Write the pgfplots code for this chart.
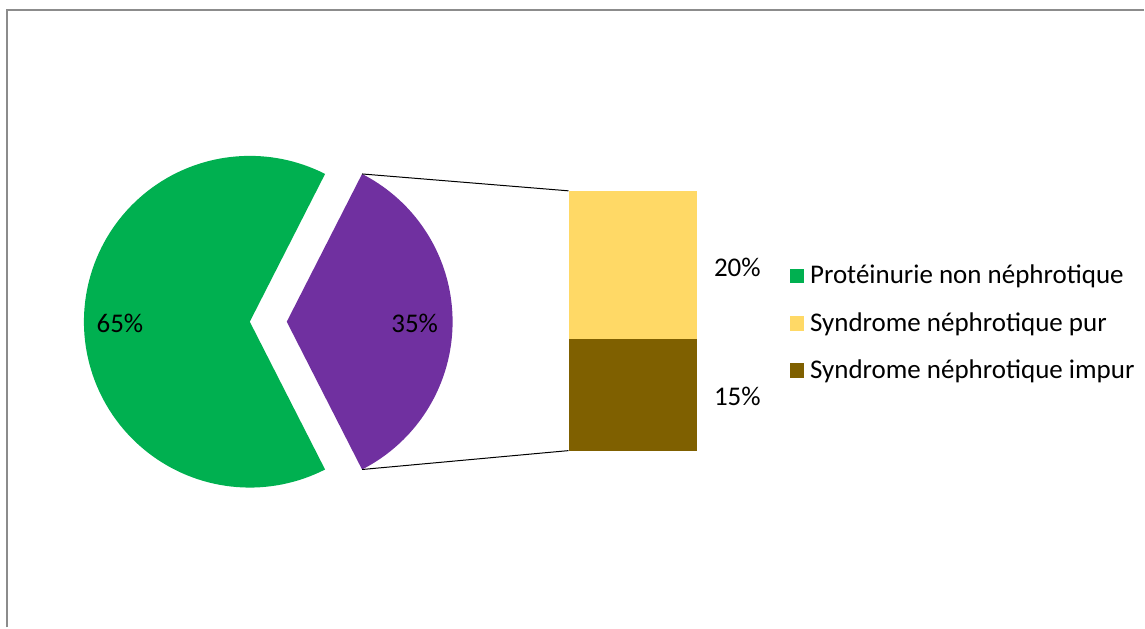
\documentclass[border=0pt]{standalone}
\usepackage{pgfplots}
\pgfplotsset{compat=1.18}
\usepackage{fontspec}
\setmainfont{Carlito}
\definecolor{pgreen}{HTML}{00B050}
\definecolor{ppurple}{HTML}{7030A0}
\definecolor{pyellow}{HTML}{FFD966}
\definecolor{pbrown}{HTML}{7F6000}
\begin{document}
\begin{tikzpicture}[font=\fontsize{13.5}{16}\selectfont]
\path (0,0) rectangle (572.5pt,314pt);
% values (percent)
\pgfmathsetmacro{\vA}{65}% Proteinurie non nephrotique
\pgfmathsetmacro{\vB}{35}% syndrome nephrotique (pie slice)
\pgfmathsetmacro{\half}{\vB*3.6/2}
\begin{axis}[
  at={(0,0)}, anchor=origin,
  scale only axis, width=572.5pt, height=314pt,
  xmin=0, xmax=1145, ymin=0, ymax=628,
  hide axis, clip=false,
  legend style={draw=none, fill=none, at={(axis cs:790,367)}, anchor=north west,
    row sep=8.7pt, font=\fontsize{13.5}{16}\selectfont,
    inner sep=0pt, nodes={inner xsep=3pt, inner ysep=2pt}},
  legend cell align=left,
  legend image code/.code={\fill[#1] (0pt,-3.4pt) rectangle (6.8pt,3.4pt);},
]
% frame
\addplot[draw=gray!90, line width=1pt, forget plot] coordinates {(7.5,0) (7.5,617.5) (1145,617.5)};
% green slice
\addplot[fill=pgreen, draw=none, domain=\half:360-\half, samples=120, forget plot]
  ({250+166*cos(x)},{306+166*sin(x)}) -- (axis cs:250,306) -- cycle;
% purple exploded slice
\addplot[fill=ppurple, draw=none, domain=-\half:\half, samples=80, forget plot]
  ({287+166*cos(x)},{306+166*sin(x)}) -- (axis cs:287,306) -- cycle;
% connectors
\addplot[black, line width=0.5pt, forget plot] coordinates {(362.4,453.9) (569,437)};
\addplot[black, line width=0.5pt, forget plot] coordinates {(362.4,158.1) (569,177)};
% labels
\node at (axis cs:120,304) {65\%};
\node at (axis cs:415,304) {35\%};
\node at (axis cs:738,360) {20\%};
\node at (axis cs:738,231) {15\%};
\addlegendimage{pgreen}
\addlegendentry{Protéinurie non néphrotique}
\addlegendimage{pyellow}
\addlegendentry{Syndrome néphrotique pur}
\addlegendimage{pbrown}
\addlegendentry{Syndrome néphrotique impur}
\end{axis}
% bar of the pie: 15% + 20% = 35%
\begin{axis}[
  at={(0,88.5pt)}, anchor=origin,
  scale only axis, width=572.5pt, height=130pt,
  xmin=0, xmax=1145, ymin=0, ymax=35,
  hide axis, clip=false,
  ybar stacked, bar width=64.5pt,
]
\addplot[fill=pbrown, draw=none] coordinates {(633.5,15)};
\addplot[fill=pyellow, draw=none] coordinates {(633.5,20)};
\end{axis}
\end{tikzpicture}
\end{document}
